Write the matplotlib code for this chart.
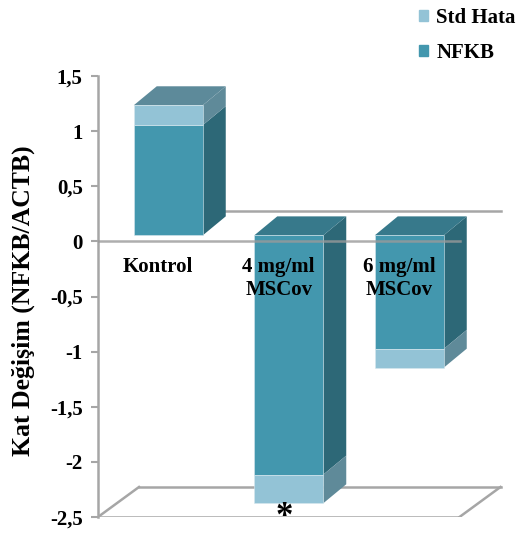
import matplotlib.pyplot as plt
from matplotlib.patches import Polygon, Patch

plt.rcParams['font.family'] = ['Liberation Serif', 'DejaVu Serif']
plt.rcParams['font.weight'] = 'bold'

# fold change values (NFKB / ACTB) and standard error
categories = ['Kontrol', '4 mg/ml\nMSCov', '6 mg/ml\nMSCov']
nfkb = [1.0, -2.17, -1.03]
std_hata = [0.18, 0.26, 0.17]
yticks = [1.5, 1, 0.5, 0, -0.5, -1, -1.5, -2, -2.5]
ytick_labels = ['1,5', '1', '0,5', '0', '-0,5', '-1', '-1,5', '-2', '-2,5']

# colours: front / side / top for each series
c_nfkb = ('#4397ae', '#2d6877', '#37798b')
c_std = ('#93c3d6', '#5f8a99', '#5d8a9a')
grid_c = '#a6a6a6'

W, H = 519, 533
fig = plt.figure(figsize=(W / 100, H / 100), dpi=100)
ax_l, ax_r, ax_t, ax_b = 98, 506, 76, 517
ax = fig.add_axes([ax_l / W, 1 - ax_b / H, (ax_r - ax_l) / W, (ax_b - ax_t) / H])
ax.set_ylim(-2.5, 1.5)
cat_px = 120.5
ax.set_xlim(-0.5, -0.5 + (ax_r - ax_l) / cat_px)

# pixel -> data helpers for the fake depth
px_x = 1.0 / cat_px
px_y = 4.0 / (ax_b - ax_t)


def off(dx, dy):
    return dx * px_x, dy * px_y


wall_dx, wall_dy = off(41, 30)
bar_dx, bar_dy = off(10, 6)
side_dx, side_dy = off(23, 19)
bar_w = 69 * px_x

x0, x1 = -0.5, 2.5

# floor at -2.5
fl = -2.5
ax.plot([x0 + wall_dx, x1 + wall_dx], [fl + wall_dy] * 2, color=grid_c, lw=1.8, zorder=1)
ax.plot([x0, x0 + wall_dx], [fl, fl + wall_dy], color=grid_c, lw=1.8, zorder=1)
ax.plot([x1, x1 + wall_dx], [fl, fl + wall_dy], color=grid_c, lw=1.8, zorder=1)
ax.plot([x0, x1], [fl, fl], color=grid_c, lw=1.8, zorder=1)
# back edge of the zero plane
ax.plot([x0 + wall_dx, x1 + wall_dx], [wall_dy, wall_dy], color=grid_c, lw=1.8, zorder=1)

xs = [i + bar_dx for i in range(len(categories))]


def box(xc, y0, y1, colors, top):
    lo, hi = min(y0, y1), max(y0, y1)
    xr = xc + bar_w / 2
    xl = xc - bar_w / 2
    side = [(xr, lo), (xr + side_dx, lo + side_dy), (xr + side_dx, hi + side_dy), (xr, hi)]
    ax.add_patch(Polygon(side, closed=True, fc=colors[1], ec='none', zorder=3))
    if top:
        tp = [(xl, hi), (xr, hi), (xr + side_dx, hi + side_dy), (xl + side_dx, hi + side_dy)]
        ax.add_patch(Polygon(tp, closed=True, fc=colors[2], ec='none', zorder=3))


for i, (v, s) in enumerate(zip(nfkb, std_hata)):
    base = bar_dy
    end = v + bar_dy
    tot = v + (s if v > 0 else -s) + bar_dy
    box(xs[i], base, end, c_nfkb, top=(v < 0))
    box(xs[i], end, tot, c_std, top=(v > 0))

b1 = ax.bar(xs, nfkb, width=bar_w, bottom=bar_dy, color=c_nfkb[0],
            edgecolor='#d8e8ee', linewidth=0.4, zorder=4)
std_bottom = [v + bar_dy for v in nfkb]
std_h = [s if v > 0 else -s for v, s in zip(nfkb, std_hata)]
b2 = ax.bar(xs, std_h, width=bar_w, bottom=std_bottom, color=c_std[0],
            edgecolor='#d8e8ee', linewidth=0.4, zorder=4)

# front edge of the zero plane, drawn over the bars
ax.plot([x0 - 0.02, x1], [0, 0], color='#9a9a9a', lw=1.8, alpha=0.8, zorder=6)

# category labels
for i, lab in enumerate(categories):
    ax.text(i, -16 * px_y, lab, ha='center', va='top', fontsize=15,
            fontweight='bold', linespacing=1.15, zorder=7)

# significance mark
ax.text(xs[1] - 0.04, -2.5 - 1 * px_y, '*', ha='center', va='center',
        fontsize=25, fontweight='bold', zorder=7)

for sp in ['top', 'right', 'bottom']:
    ax.spines[sp].set_visible(False)
ax.spines['left'].set_color(grid_c)
ax.spines['left'].set_linewidth(1.8)
ax.set_xticks([])
ax.set_yticks(yticks)
ax.set_yticklabels(ytick_labels, fontsize=15, fontweight='bold')
ax.tick_params(axis='y', length=5, width=1.5, color=grid_c, pad=6)
ax.set_ylabel('Kat Değişim (NFKB/ACTB)', fontsize=18.5, fontweight='bold')
ax.yaxis.set_label_coords(-0.155, 0.49)
ax.patch.set_alpha(0)

handles = [Patch(color=c_std[0], label='Std Hata'), Patch(color=c_nfkb[0], label='NFKB')]
fig.legend(handles=handles, loc='upper right', bbox_to_anchor=(1.03, 1.02), frameon=False,
           handlelength=0.45, handleheight=0.45, handletextpad=0.4, labelspacing=0.7,
           prop={'size': 15, 'weight': 'bold'})

fig.savefig('out.png', dpi=100)
